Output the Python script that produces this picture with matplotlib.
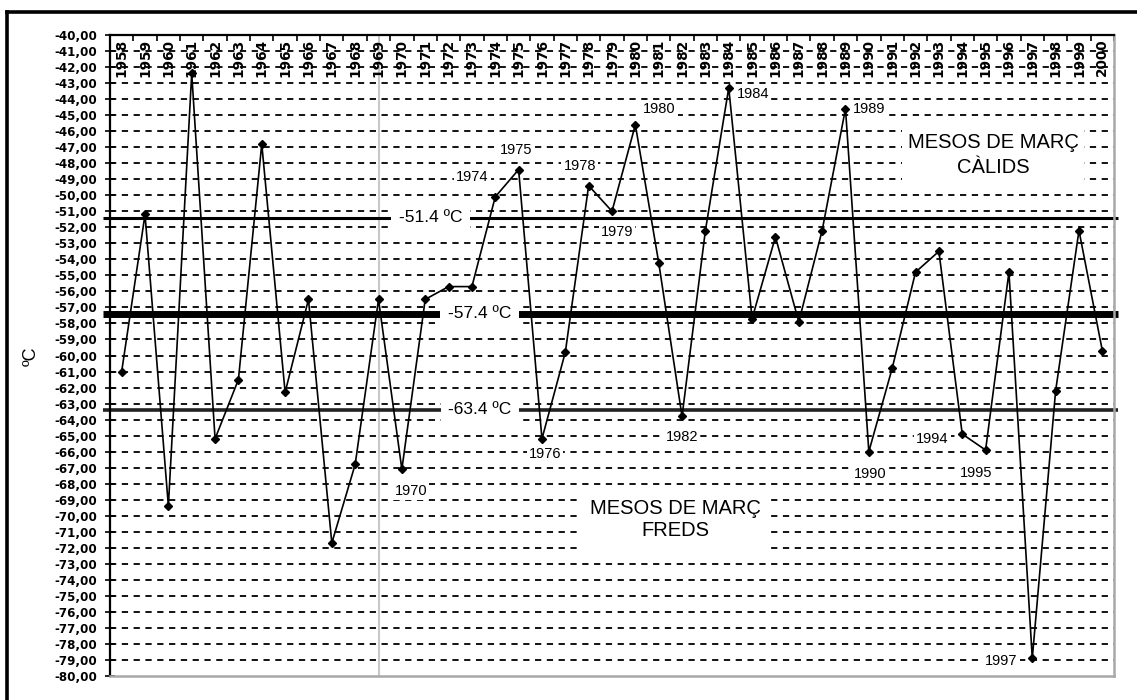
import numpy as np
import matplotlib.pyplot as plt
from matplotlib.lines import Line2D

plt.rcParams['lines.scale_dashes'] = False

years = list(range(1958, 2001))
march_temp = [-61.0, -51.2, -69.4, -42.4, -65.2, -61.5, -46.8, -62.3, -56.5, -71.7, -66.8, -56.5,
              -67.1, -56.5, -55.7, -55.7, -50.1, -48.4, -65.2, -59.8, -49.4, -51.0, -45.6, -54.2,
              -63.8, -52.2, -43.3, -57.7, -52.6, -57.9, -52.2, -44.6, -66.0, -60.8, -54.8, -53.5,
              -64.9, -65.9, -54.8, -78.9, -62.2, -52.2, -59.7]
ref_values = [-51.4, -57.4, -63.4]
ref_labels = ['-51.4 ºC', '-57.4 ºC', '-63.4 ºC']
labelled_years = [1970, 1974, 1975, 1976, 1978, 1979, 1980, 1982, 1984, 1989, 1990, 1994, 1995, 1997]
y_ticks = np.arange(-80, -39, 1)

W, H = 1137, 700
fig = plt.figure(figsize=(W / 100, H / 100), dpi=100)
fig.patch.set_facecolor('white')
ax = fig.add_axes([110 / W, 1 - 676 / H, 1004 / W, 641 / H])

x = np.arange(len(years))
ax.set_xlim(-0.5, len(years) - 0.5)
ax.set_ylim(-80, -40)

# dashed horizontal gridlines
for v in y_ticks[1:-1]:
    ax.axhline(v, color='black', lw=1.3, linestyle=(0, (4.5, 4.0)), zorder=1)

# gray vertical line at 1969
ax.axvline(years.index(1969), color='#c8c8c8', lw=1.5, zorder=1.5)

# reference lines (extend a bit past the axes)
ref_widths = [2.2, 5.0, 2.6]
ref_colors = ['black', 'black', '#222222']
for v, lw, c in zip(ref_values, ref_widths, ref_colors):
    ax.plot([-0.007, 1.004], [v, v], transform=ax.get_yaxis_transform(), color=c, lw=lw,
            solid_capstyle='butt', clip_on=False, zorder=2)
ref_text_x = [0.319, 0.3685, 0.3685]
for v, lab, tx in zip(ref_values, ref_labels, ref_text_x):
    ax.text(tx, v, lab, transform=ax.get_yaxis_transform(), ha='center', va='center',
            fontsize=12.5, family='Liberation Sans', zorder=3,
            bbox=dict(boxstyle='square,pad=0.45', facecolor='white', edgecolor='none'))

# main series
ax.plot(x, march_temp, color='black', lw=1.2, marker='D', markersize=4.5, zorder=5)

# year annotations (offsets in pixels: dx right, dy down)
offsets = {1970: (9, 22), 1974: (-23, -20), 1975: (-2, -20), 1976: (3, 15), 1978: (-9, -20),
           1979: (5, 21), 1980: (24, -16), 1982: (0, 21), 1984: (24, 6), 1989: (24, 0),
           1990: (1, 22), 1994: (-30, 5), 1995: (-9, 23), 1997: (-31, 3)}
for yr in labelled_years:
    i = years.index(yr)
    dx, dy = offsets[yr]
    ax.annotate(str(yr), (i, march_temp[i]), xytext=(dx * 0.72, -dy * 0.72),
                textcoords='offset points', ha='center', va='center', fontsize=10.5,
                family='Liberation Sans', zorder=4,
                bbox=dict(boxstyle='square,pad=0.15', facecolor='white', edgecolor='none'))

# region boxes
ax.text((993 - 110) / 1004, 1 - (155 - 35) / 641, 'MESOS DE MARÇ\nCÀLIDS', transform=ax.transAxes,
        ha='center', va='center', fontsize=14.5, family='Liberation Sans', linespacing=1.45,
        zorder=3, bbox=dict(boxstyle='square,pad=0.3', facecolor='white', edgecolor='none'))
ax.text((675 - 110) / 1004, 1 - (519 - 35) / 641, 'MESOS DE MARÇ\nFREDS', transform=ax.transAxes,
        ha='center', va='center', fontsize=14.5, family='Liberation Sans', linespacing=1.2,
        zorder=3, bbox=dict(boxstyle='square,pad=0.45', facecolor='white', edgecolor='none'))

# y axis
ax.set_yticks(y_ticks)
ax.set_yticklabels([f"{v:.2f}".replace('.', ',') for v in y_ticks], fontsize=8.6, fontweight='bold')
ax.tick_params(axis='y', direction='inout', length=7, width=1.2, pad=6)
ax.set_ylabel('ºC', fontsize=13, family='Liberation Sans', labelpad=0)
ax.yaxis.set_label_coords((40 - 110) / 1004, 1 - (356 - 35) / 641)

# x axis: year labels inside the top, ticks at category boundaries
ax.set_xticks([])
ax.set_xticks(np.arange(-0.5, len(years), 1), minor=True)
ax.tick_params(axis='x', which='minor', direction='in', length=4, width=1.2,
               top=True, bottom=False, labelbottom=False)
for i, yr in enumerate(years):
    ax.text(i, 0.994, str(yr), transform=ax.get_xaxis_transform(), rotation=90,
            ha='center', va='top', fontsize=9.8, fontweight='bold', zorder=3)

ax.spines['top'].set_linewidth(1.6)
ax.spines['left'].set_linewidth(1.6)
ax.spines['bottom'].set_color('#a8a8a8')
ax.spines['bottom'].set_linewidth(1.8)
ax.spines['right'].set_color('#a8a8a8')
ax.spines['right'].set_linewidth(1.8)

# outer frame (left and top edges visible)
fig.add_artist(Line2D([7 / W, 7 / W], [0, 1 - 12 / H], transform=fig.transFigure, color='black', lw=2.6))
fig.add_artist(Line2D([7 / W, 1], [1 - 12 / H, 1 - 12 / H], transform=fig.transFigure, color='black', lw=2.6))

fig.savefig('out.png', dpi=100)
